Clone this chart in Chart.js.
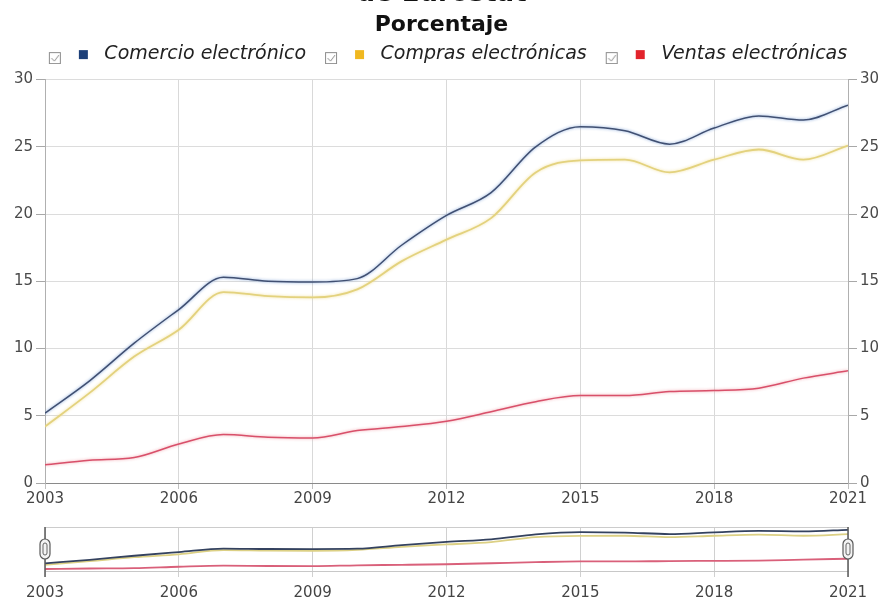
<!DOCTYPE html>
<html><head><meta charset="utf-8">
<script src="https://cdn.jsdelivr.net/npm/chart.js@4.4.1/dist/chart.umd.min.js"></script>
<style>
html,body{margin:0;padding:0;background:#fff;overflow:hidden;width:883px;height:599px;}
#main{position:absolute;left:0;top:-21px;width:883px;height:529px;}
#nav{position:absolute;left:0;top:512px;width:883px;height:87px;}
</style></head><body>
<div id="main"><canvas id="c1"></canvas></div>
<div id="nav"><canvas id="c2"></canvas></div>
<script>
// ---- data ----
const years = [2003,2004,2005,2006,2007,2008,2009,2010,2011,2012,2013,2014,2015,2016,2017,2018,2019,2020,2021];
const comercio = [5.2,7.6,10.4,12.9,15.3,15.0,14.95,15.2,17.7,19.9,21.6,25.0,26.5,26.2,25.2,26.4,27.3,27.0,28.1];
const compras  = [4.2,6.7,9.4,11.4,14.2,13.9,13.8,14.4,16.5,18.1,19.7,23.1,24.0,24.05,23.1,24.05,24.8,24.05,25.1];
const ventas   = [1.35,1.7,1.9,2.9,3.6,3.4,3.35,3.9,4.2,4.6,5.3,6.05,6.5,6.5,6.8,6.87,7.05,7.8,8.34];
const seriesNames = ['Comercio electrónico','Compras electrónicas','Ventas electrónicas'];
const xTickLabels = [2003,2006,2009,2012,2015,2018,2021];
const yTickLabels = [0,5,10,15,20,25,30];

const FAM = "'DejaVu Sans', Verdana, sans-serif";
const pts = arr => years.map((y,i)=>({x:y,y:arr[i]}));

function makeIcon(color){
  const c=document.createElement('canvas'); c.width=59; c.height=20;
  const g=c.getContext('2d');
  g.fillStyle='#fff'; g.fillRect(13.5,8.5,11,11);
  g.strokeStyle='#8c8c8c'; g.lineWidth=1; g.strokeRect(13.5,8.5,11,11);
  g.beginPath(); g.moveTo(15.5,14); g.lineTo(18.5,17); g.lineTo(23,11); g.stroke();
  g.fillStyle=color; g.fillRect(43,6,9,9);
  return c;
}
const icons=[makeIcon('#1c3f78'),makeIcon('#f0b820'),makeIcon('#e2232b')];

const legendPatch={id:'legendPatch',afterInit(chart){const lg=chart.legend; if(lg&&!lg._p){const f=lg.fit; lg.fit=function(){f.call(this); this.height+=6;}; lg._p=true;}}};
const halo={id:'halo',
  beforeDatasetDraw(chart,args){const ds=chart.data.datasets[args.index]; chart.ctx.save(); if(ds.halo){chart.ctx.shadowColor=ds.halo; chart.ctx.shadowBlur=3;}},
  afterDatasetDraw(chart){chart.ctx.restore();}};

const tickFont={family:FAM,size:15};
const setX=s=>{s.ticks=xTickLabels.map(v=>({value:v}));};
const setY=s=>{s.ticks=yTickLabels.map(v=>({value:v}));};

new Chart(document.getElementById('c1'),{
  type:'line',
  data:{datasets:[
    {label:seriesNames[0],data:pts(comercio),borderColor:'#415072',halo:'rgba(110,150,210,0.9)',borderWidth:1.5,pointRadius:0,cubicInterpolationMode:'monotone'},
    {label:seriesNames[1],data:pts(compras),borderColor:'#e3d27e',halo:'rgba(240,220,140,0.9)',borderWidth:1.8,pointRadius:0,cubicInterpolationMode:'monotone'},
    {label:seriesNames[2],data:pts(ventas),borderColor:'#d8506a',halo:'rgba(240,150,160,0.9)',borderWidth:1.5,pointRadius:0,cubicInterpolationMode:'monotone'}
  ]},
  options:{
    animation:false,responsive:true,maintainAspectRatio:false,
    layout:{padding:0},
    events:[],
    plugins:{
      title:{display:true,text:'de Eurostat',color:'#111',font:{family:FAM,size:26,weight:'bold'},padding:{top:0,bottom:0}},
      subtitle:{display:true,text:'Porcentaje',color:'#111',font:{family:FAM,size:22,weight:'bold'},padding:{top:2,bottom:0}},
      legend:{labels:{usePointStyle:true,pointStyleWidth:59,padding:6,color:'#222',
        font:{family:FAM,size:19,style:'italic'},
        generateLabels(chart){const items=Chart.defaults.plugins.legend.labels.generateLabels(chart); items.forEach((it,i)=>{it.pointStyle=icons[i];}); return items;}}},
      tooltip:{enabled:false}
    },
    scales:{
      x:{type:'linear',min:2003,max:2021,afterBuildTicks:setX,
        ticks:{callback:v=>String(v),font:tickFont,color:'#444',padding:1,maxRotation:0,autoSkip:false},
        grid:{color:'#d9d9d9',tickLength:6,tickColor:'#c0c0c0'},border:{color:'#8a8a8a'},
        afterFit(s){s.height=25;}},
      y:{position:'left',min:0,max:30,afterBuildTicks:setY,
        ticks:{font:tickFont,color:'#4a4a4a',padding:3},
        grid:{color:'#dcdcdc',tickLength:9,tickColor:'#a8a8a8'},border:{color:'#b0b0b0'},
        afterFit(s){s.width=45;}},
      y2:{position:'right',min:0,max:30,afterBuildTicks:setY,
        ticks:{font:tickFont,color:'#4a4a4a',padding:3},
        grid:{drawOnChartArea:false,tickLength:9,tickColor:'#a8a8a8'},border:{color:'#b0b0b0'},
        afterFit(s){s.width=35;}}
    }
  },
  plugins:[legendPatch,halo]
});

const navPlugin={id:'navPlugin',afterDraw(chart){
  const {ctx,chartArea:a}=chart;
  ctx.save();
  ctx.strokeStyle='#cccccc'; ctx.lineWidth=1;
  ctx.beginPath(); ctx.moveTo(a.left,a.top+0.5); ctx.lineTo(a.right,a.top+0.5); ctx.stroke();
  const cy=a.top+22;
  [a.left,a.right].forEach(x=>{
    ctx.strokeStyle='#5a5a5a'; ctx.lineWidth=1.5;
    ctx.beginPath(); ctx.moveTo(x,a.top); ctx.lineTo(x,a.bottom+6); ctx.stroke();
    ctx.fillStyle='#f3f3f3'; ctx.lineWidth=1.2;
    ctx.beginPath(); ctx.roundRect(x-5,cy-10,10,20,5); ctx.fill(); ctx.stroke();
    ctx.lineWidth=1; ctx.strokeStyle='#666';
    ctx.beginPath(); ctx.roundRect(x-2,cy-6,4,12,2); ctx.stroke();
  });
  ctx.restore();
}};

new Chart(document.getElementById('c2'),{
  type:'line',
  data:{datasets:[
    {label:seriesNames[0],data:pts(comercio),borderColor:'#34425f',borderWidth:1.8,pointRadius:0,cubicInterpolationMode:'monotone'},
    {label:seriesNames[1],data:pts(compras),borderColor:'#dcd084',borderWidth:1.8,pointRadius:0,cubicInterpolationMode:'monotone'},
    {label:seriesNames[2],data:pts(ventas),borderColor:'#d9607a',borderWidth:1.8,pointRadius:0,cubicInterpolationMode:'monotone'}
  ]},
  options:{
    animation:false,responsive:true,maintainAspectRatio:false,events:[],
    layout:{padding:{left:45,right:35,top:15,bottom:0}},
    plugins:{legend:{display:false},title:{display:false},tooltip:{enabled:false}},
    scales:{
      x:{type:'linear',min:2003,max:2021,afterBuildTicks:setX,
        ticks:{callback:v=>String(v),font:tickFont,color:'#444',padding:7,maxRotation:0,autoSkip:false},
        grid:{color:'#d0d0d0',tickLength:6,tickColor:'#d0d0d0'},border:{color:'#c8c8c8'},
        afterFit(s){s.height=28;}},
      y:{display:false,min:0,max:30}
    }
  },
  plugins:[navPlugin]
});
</script>
</body></html>
